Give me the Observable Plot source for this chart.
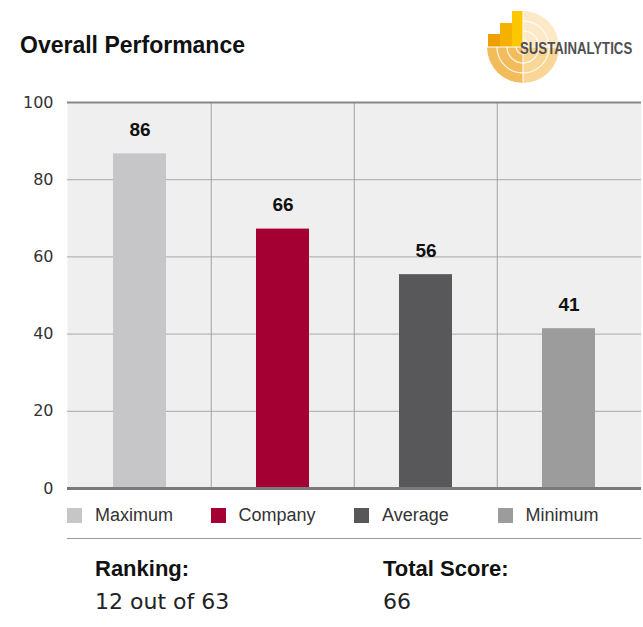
<!DOCTYPE html>
<html><head><meta charset="utf-8">
<script src="https://cdn.jsdelivr.net/npm/d3@7"></script>
<script src="https://cdn.jsdelivr.net/npm/@observablehq/plot@0.6"></script>
<style>
body{margin:0;background:#fff;width:643px;height:627px;position:relative;overflow:hidden;font-family:"Liberation Sans",Arial,sans-serif;}
#title{position:absolute;left:20px;top:32px;font-size:23px;font-weight:bold;color:#111;}
#logo{position:absolute;left:480px;top:0;}
#chart{position:absolute;left:0;top:85px;}
#legend{position:absolute;left:0;top:505px;width:643px;height:24px;}
.li{position:absolute;top:0;height:22px;font-size:18px;color:#333;}
.sw{position:absolute;left:0;top:3px;width:15px;height:15px;}
.lt{position:absolute;left:28px;top:0;white-space:nowrap;}
#sep{position:absolute;left:67px;top:538px;width:574px;height:1px;background:#999;}
.hd{position:absolute;font-size:22px;font-weight:bold;color:#111;}
.vl{position:absolute;font-size:22px;color:#222;font-family:"DejaVu Sans",sans-serif;}
</style></head><body>
<div id="title">Overall Performance</div>
<svg id="logo" width="163" height="95" viewBox="0 0 163 95">
  <g transform="translate(43,47)">
    <path d="M0,0 L0,-36 A36,36 0 0 1 36,0 Z" fill="#fde8c8"/>
    <path d="M0,0 L36,0 A36,36 0 0 1 0,36 Z" fill="#f9d596"/>
    <path d="M0,0 L0,36 A36,36 0 0 1 -36,0 Z" fill="#f2bb5c"/>
    <circle r="26" fill="none" stroke="#fff" stroke-width="1.3" opacity="0.8"/>
    <circle r="16" fill="none" stroke="#fff" stroke-width="1.3" opacity="0.8"/>
    <circle r="7" fill="none" stroke="#fff" stroke-width="1.3" opacity="0.8"/>
    <rect x="-35" y="-13" width="12" height="13" fill="#eda000"/>
    <rect x="-23" y="-24" width="12" height="24" fill="#f6b100"/>
    <rect x="-11" y="-36" width="11" height="36" fill="#fcc600"/>
    <line x1="-36" y1="0" x2="36" y2="0" stroke="#fff" stroke-width="1"/>
    <line x1="0" y1="-36" x2="0" y2="36" stroke="#fff" stroke-width="1"/>
  </g>
  <text transform="translate(40,54) scale(0.8,1)" font-family="Liberation Sans, Arial, sans-serif" font-weight="bold" font-size="16.5" fill="#505050">SUSTAINALYTICS</text>
</svg>
<div id="chart"></div>
<div id="legend"></div>
<div id="sep"></div>
<div class="hd" style="left:95px;top:556px;">Ranking:</div>
<div class="vl" style="left:95px;top:589px;" id="rank"></div>
<div class="hd" style="left:383px;top:556px;">Total Score:</div>
<div class="vl" style="left:383px;top:589px;" id="score"></div>
<script>
const categories = ["Maximum", "Company", "Average", "Minimum"];
const labels = [86, 66, 56, 41];              // printed value labels
const barHeights = [86.7, 67.2, 55.4, 41.4];  // bar tops as drawn in the picture
const colors = ["#c6c6c8", "#a50034", "#58585a", "#9c9c9c"];
const yTicks = [0, 20, 40, 60, 80, 100];
const ranking = "12 out of 63";
const totalScore = "66";

const data = categories.map((c, i) => ({category: c, value: barHeights[i], label: labels[i]}));
const width = 643, mL = 67, mR = 2;
const step = (width - mL - mR) / categories.length;

const chart = Plot.plot({
  width, height: 420,
  marginLeft: mL, marginRight: mR, marginTop: 17, marginBottom: 17,
  style: {fontFamily: "DejaVu Sans, sans-serif", background: "transparent"},
  x: {domain: categories, paddingInner: 0.63, paddingOuter: 0.315, axis: null},
  y: {domain: [0, 100], axis: null},
  color: {domain: categories, range: colors},
  marks: [
    Plot.frame({fill: "#efefef", stroke: null}),
    Plot.ruleY(yTicks.filter(t => t > 0 && t < 100), {stroke: "#a8a8a8", strokeWidth: 1}),
    Plot.ruleX(categories.slice(1), {dx: -step / 2, stroke: "#a0a0a0", strokeWidth: 1}),
    Plot.barY(data, {x: "category", y: "value", fill: "category"}),
    Plot.ruleY([100], {stroke: "#888", strokeWidth: 2}),
    Plot.ruleY([0], {stroke: "#7a7a7a", strokeWidth: 3}),
    Plot.text(data, {x: "category", y: "value", text: d => String(d.label), dy: -24, fontSize: 19, fontWeight: "bold", fill: "#111", fontFamily: "Liberation Sans, Arial, sans-serif"}),
    Plot.axisY({ticks: yTicks, tickSize: 0, tickPadding: 14, fontSize: 16, color: "#333", label: null})
  ]
});
document.getElementById("chart").appendChild(chart);

const legend = document.getElementById("legend");
categories.forEach((c, i) => {
  const d = document.createElement("div");
  d.className = "li";
  d.style.left = (mL + i * step) + "px";
  d.innerHTML = `<div class="sw" style="background:${colors[i]}"></div><div class="lt">${c}</div>`;
  legend.appendChild(d);
});
document.getElementById("rank").textContent = ranking;
document.getElementById("score").textContent = totalScore;
</script>
</body></html>
